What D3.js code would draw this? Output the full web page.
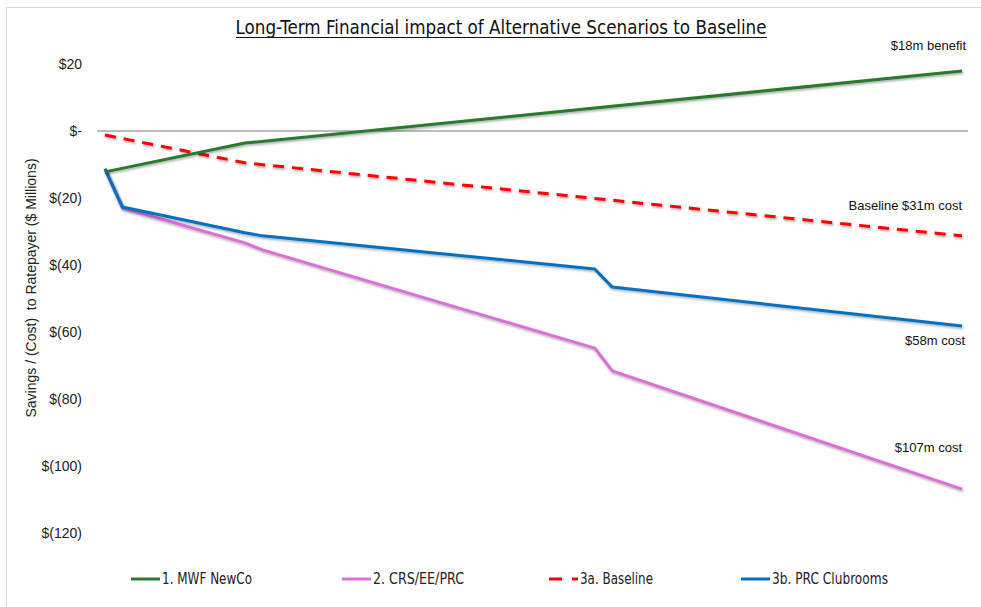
<!DOCTYPE html>
<html>
<head>
<meta charset="utf-8">
<style>
    body { margin: 0; background: #fff; }
    svg { display: block; }
    .tick-label { font-family: 'Liberation Sans', Arial, sans-serif; font-size: 14px; fill: #222; }
    .narrow { font-family: 'Liberation Sans Narrow', 'DejaVu Sans Condensed', sans-serif; }
</style>
</head>
<body>
<svg width="981" height="607"></svg>

<script src="https://d3js.org/d3.v7.min.js"></script>
<script>
    // years since start where the lines bend
    const years = [0, 1, 8, 9, 28, 29, 49]

    const newco      = [-12.2, null, -3.6, null, null, null, 17.9]
    const crsEePrc   = [-11.3, -23.0, -33.4, -35.5, -64.8, -71.6, -106.9]
    const baseline   = [-1.2, null, -9.5, null, null, null, -31.3]
    const clubrooms  = [-11.3, -22.7, -30.4, -31.3, -41.2, -46.6, -58.2]

    const seriesNames = ["1. MWF NewCo", "2. CRS/EE/PRC", "3a. Baseline", "3b. PRC Clubrooms"]
    const seriesColors = ["#2a7a2e", "#da70d6", "#ff0000", "#0070c0"]

    const yTicks = [20, 0, -20, -40, -60, -80, -100, -120]
    const yTickLabels = ["$20", "$-", "$(20)", "$(40)", "$(60)", "$(80)", "$(100)", "$(120)"]

    const endNotes = ["$18m benefit", "$107m cost", "Baseline $31m cost", "$58m cost"]

    let svg = d3.select("svg")

    // light frame round the chart
    svg.append("rect")
        .attr("x", 6.5).attr("y", 7.5)
        .attr("width", 1000).attr("height", 640)
        .style("fill", "none")
        .style("stroke", "#d9d9d9")

    let x = d3.scaleLinear().domain([0, 49]).range([105, 962])
    let y = d3.scaleLinear().domain([20, -120]).range([64, 533])

    // soft shadow under lines
    let defs = svg.append("defs")
    let f = defs.append("filter").attr("id", "shadow")
        .attr("x", "-5%").attr("y", "-5%").attr("width", "110%").attr("height", "120%")
    f.append("feDropShadow")
        .attr("dx", 1).attr("dy", 1.5).attr("stdDeviation", 1)
        .attr("flood-color", "#000").attr("flood-opacity", 0.35)

    // title
    svg.append("text")
        .attr("class", "narrow")
        .attr("x", 501).attr("y", 34)
        .attr("text-anchor", "middle")
        .attr("textLength", 531)
        .attr("lengthAdjust", "spacingAndGlyphs")
        .style("font-size", "19px")
        .style("fill", "#111")
        .text("Long-Term Financial impact of Alternative Scenarios to Baseline")
    svg.append("line")
        .attr("x1", 236).attr("x2", 767)
        .attr("y1", 37.5).attr("y2", 37.5)
        .style("stroke", "#111").style("stroke-width", 1)

    // y tick labels
    svg.selectAll(".ytick")
        .data(yTicks)
        .join("text")
        .attr("class", "tick-label")
        .attr("x", 82)
        .attr("y", d => y(d) + 5)
        .attr("text-anchor", "end")
        .text((d, i) => yTickLabels[i])

    // y axis title
    svg.append("text")
        .attr("transform", "translate(36," + 288 + ") rotate(-90)")
        .attr("text-anchor", "middle")
        .style("font-family", "'Liberation Sans', Arial, sans-serif")
        .style("font-size", "14px")
        .style("fill", "#222")
        .style("white-space", "pre")
        .text("Savings / (Cost)  to Ratepayer ($ Millions)")

    // zero line
    svg.append("line")
        .attr("x1", 97).attr("x2", 968)
        .attr("y1", y(0)).attr("y2", y(0))
        .style("stroke", "#a6a6a6").style("stroke-width", 1.5)

    let line = d3.line()
        .defined(d => d[1] !== null)
        .x(d => x(d[0]))
        .y(d => y(d[1]))

    let allSeries = [newco, crsEePrc, baseline, clubrooms]
    let drawOrder = [1, 3, 2, 0]

    drawOrder.forEach(i => {
        let pts = years.map((yr, k) => [yr, allSeries[i][k]]).filter(d => d[1] !== null)
        svg.append("path")
            .datum(pts)
            .attr("d", line)
            .attr("filter", "url(#shadow)")
            .style("fill", "none")
            .style("stroke", seriesColors[i])
            .style("stroke-width", 3)
            .style("stroke-linejoin", "round")
            .style("stroke-dasharray", i === 2 ? "11,8" : null)
    })

    // notes at line ends
    let notePos = [[966, 50], [962, 452], [962, 210], [965, 345]]
    svg.selectAll(".note")
        .data(endNotes)
        .join("text")
        .attr("x", (d, i) => notePos[i][0])
        .attr("y", (d, i) => notePos[i][1])
        .attr("text-anchor", "end")
        .style("font-family", "'Liberation Sans', Arial, sans-serif")
        .style("font-size", "13px")
        .style("fill", "#111")
        .text(d => d)

    // legend
    let legendX = [131, 342, 549, 741]
    let legendW = [90, 91, 73, 116]
    let legend = svg.selectAll(".legend")
        .data(seriesNames)
        .join("g")
        .attr("transform", (d, i) => "translate(" + legendX[i] + ",579)")
    legend.append("line")
        .attr("x1", 0).attr("x2", 29)
        .style("stroke", (d, i) => seriesColors[i])
        .style("stroke-width", 3)
        .style("stroke-dasharray", (d, i) => i === 2 ? "13,10" : null)
    legend.append("text")
        .attr("class", "narrow")
        .attr("x", 31).attr("y", 5)
        .attr("textLength", (d, i) => legendW[i])
        .attr("lengthAdjust", "spacingAndGlyphs")
        .style("font-size", "15px")
        .style("fill", "#222")
        .text(d => d)
</script>
</body>
</html>
